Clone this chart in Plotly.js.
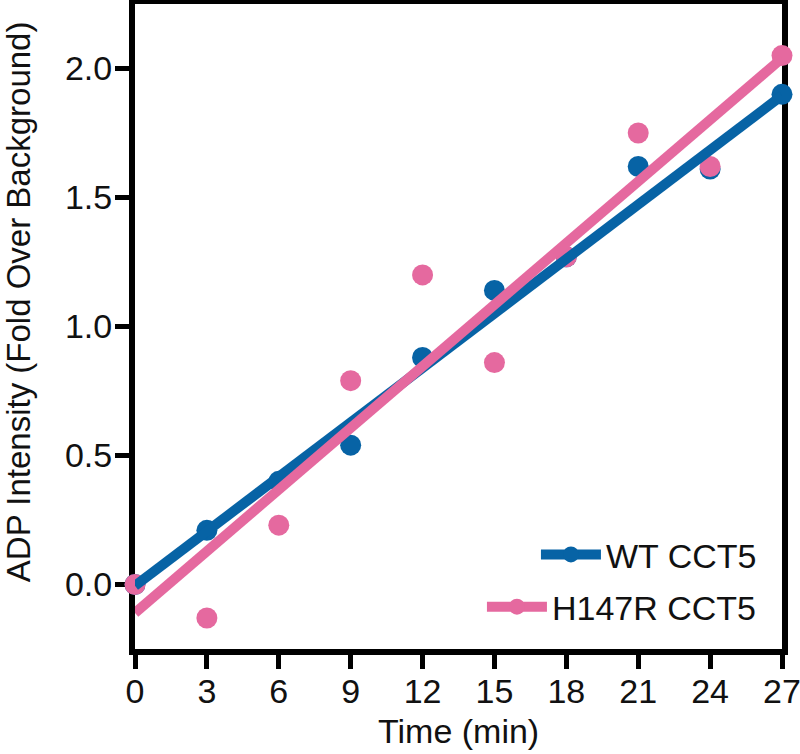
<!DOCTYPE html>
<html>
<head>
<meta charset="utf-8">
<script src="https://cdn.plot.ly/plotly-3.0.1.min.js"></script>
<style>html,body{margin:0;padding:0;background:#fff;}</style>
</head>
<body>
<div id="chart" style="width:800px;height:754px;"></div>
<script>
// Data
var timeMin = [0, 3, 6, 9, 12, 15, 18, 21, 24, 27];
var wtCCT5 = [0.0, 0.21, 0.40, 0.54, 0.88, 1.14, 1.27, 1.62, 1.61, 1.90];
var h147rCCT5 = [0.0, -0.13, 0.23, 0.79, 1.20, 0.86, 1.27, 1.75, 1.62, 2.05];
// Linear fit lines (endpoints)
var fitX = [0, 27];
var wtFit = [-0.005, 1.895];
var h147rFit = [-0.11, 2.04];
var xTicks = [0, 3, 6, 9, 12, 15, 18, 21, 24, 27];
var yTicks = [0, 0.5, 1.0, 1.5, 2.0];
var yTickText = ['0.0', '0.5', '1.0', '1.5', '2.0'];
var seriesNames = ['WT CCT5', 'H147R CCT5'];
var xTitle = 'Time (min)';
var yTitle = 'ADP Intensity (Fold Over Background)';

var blue = '#0763a5';
var pink = '#e5699f';
var font = 'Liberation Sans, Arial, sans-serif';
var fs = 34;

var traces = [
  {x: timeMin, y: wtCCT5, mode: 'markers', type: 'scatter', cliponaxis: false,
   marker: {color: blue, size: 21}, showlegend: false},
  {x: timeMin, y: h147rCCT5, mode: 'markers', type: 'scatter', cliponaxis: false,
   marker: {color: pink, size: 21}, showlegend: false},
  {x: fitX, y: wtFit, mode: 'lines', type: 'scatter', cliponaxis: false,
   line: {color: blue, width: 10}, showlegend: false},
  {x: fitX, y: h147rFit, mode: 'lines', type: 'scatter', cliponaxis: false,
   line: {color: pink, width: 10}, showlegend: false},
  {x: [null], y: [null], mode: 'lines+markers', type: 'scatter', name: seriesNames[0],
   line: {color: blue, width: 10}, marker: {color: blue, size: 16}, legend: 'legend'},
  {x: [null], y: [null], mode: 'lines+markers', type: 'scatter', name: seriesNames[1],
   line: {color: pink, width: 10}, marker: {color: pink, size: 16}, legend: 'legend2'}
];

var axisCommon = {
  showgrid: false, zeroline: false, showline: true, mirror: true,
  linecolor: '#000', linewidth: 6, ticks: 'outside', ticklen: 14, tickwidth: 5,
  tickcolor: '#000', layer: 'below traces', ticklabeloverflow: 'allow',
  tickfont: {family: font, size: fs, color: '#111'}
};

var legendCommon = {
  x: 0.969, xanchor: 'right', yanchor: 'middle',
  bgcolor: 'rgba(0,0,0,0)', borderwidth: 0, itemwidth: 60,
  font: {family: font, size: fs, color: '#111'}
};

var layout = {
  width: 800, height: 754,
  margin: {l: 135, r: 18, t: 4, b: 105},
  paper_bgcolor: '#fff', plot_bgcolor: '#fff',
  font: {family: font, color: '#111'},
  xaxis: Object.assign({}, axisCommon, {
    range: [0, 27], tickmode: 'array', tickvals: xTicks, ticklabelstandoff: -7
  }),
  yaxis: Object.assign({}, axisCommon, {
    range: [-0.25, 2.25], tickmode: 'array', tickvals: yTicks, ticktext: yTickText,
    ticklabelstandoff: -4
  }),
  legend: Object.assign({}, legendCommon, {y: 0.146}),
  legend2: Object.assign({}, legendCommon, {y: 0.065}),
  annotations: [
    {text: xTitle, xref: 'paper', yref: 'paper', x: 0.5, y: -0.127,
     xanchor: 'center', yanchor: 'middle', showarrow: false,
     font: {family: font, size: fs, color: '#111'}},
    {text: yTitle, xref: 'paper', yref: 'paper', x: -0.179, y: 0.538,
     xanchor: 'center', yanchor: 'middle', showarrow: false, textangle: -90,
     font: {family: font, size: 33, color: '#111'}}
  ],
  showlegend: true
};

Plotly.newPlot('chart', traces, layout, {displayModeBar: false, staticPlot: true});
</script>
</body>
</html>
